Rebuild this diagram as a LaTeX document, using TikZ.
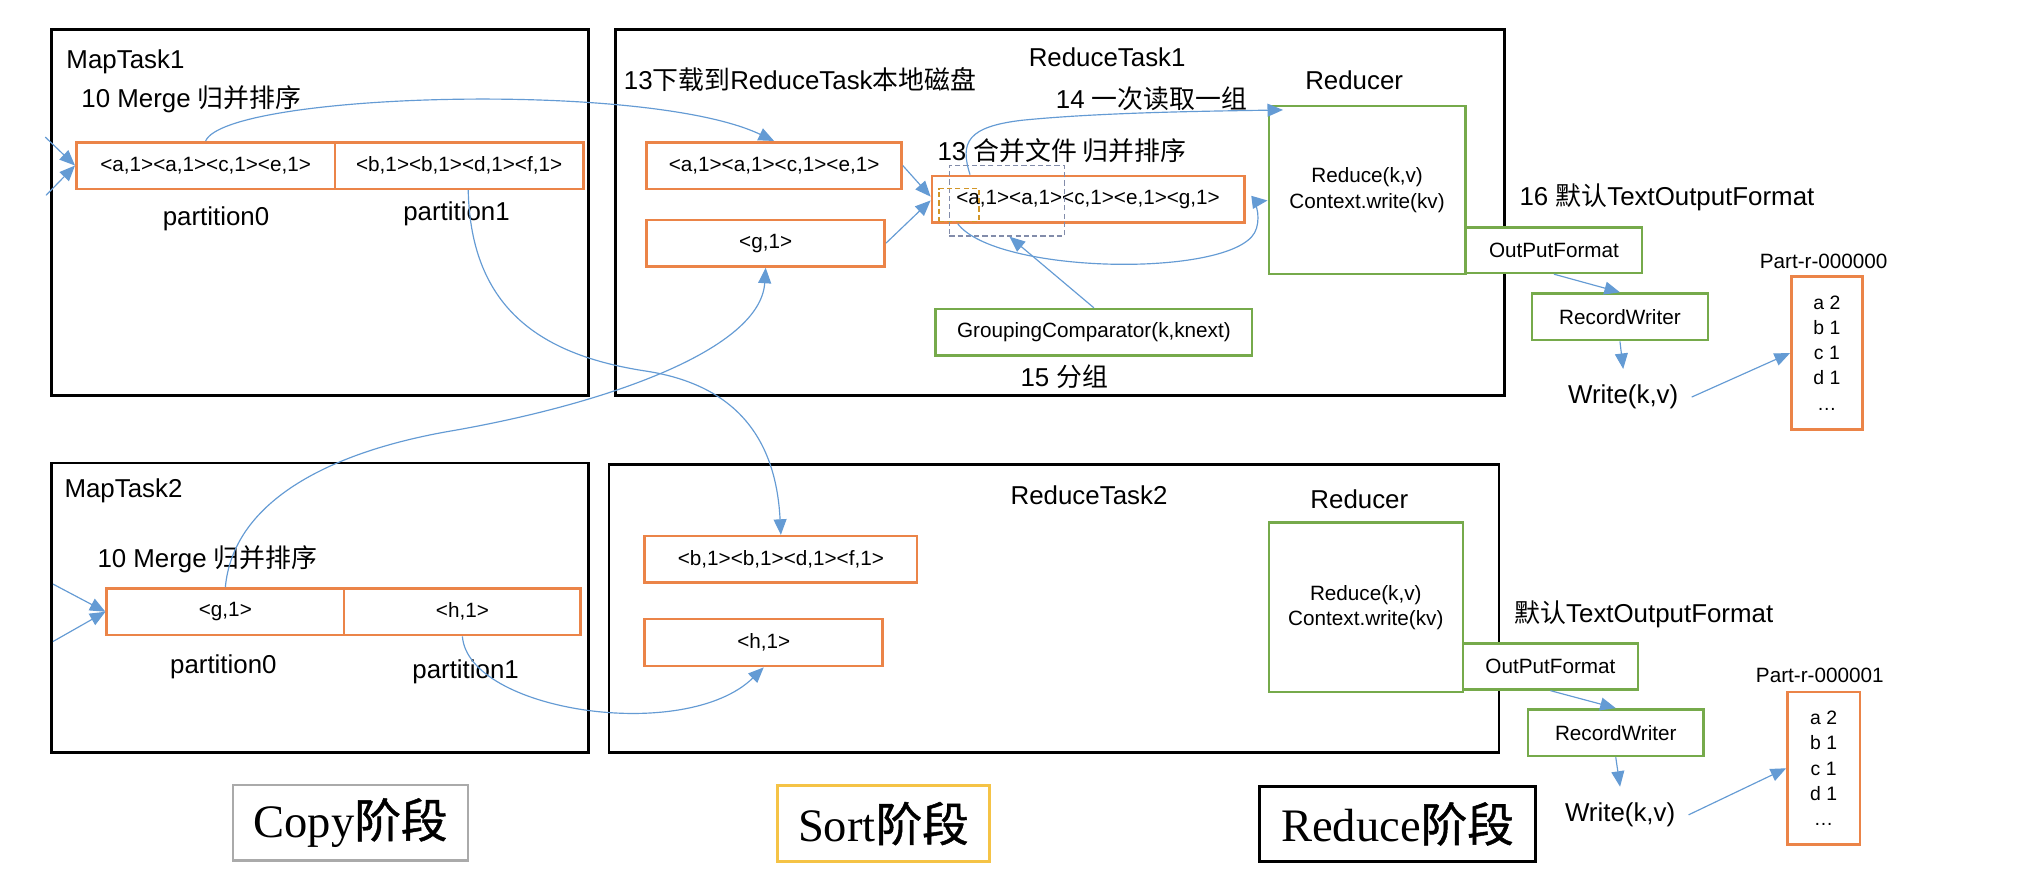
\documentclass[tikz,border=0pt]{standalone}
\usepackage{fontspec}
\setmainfont{Liberation Sans}
\newfontfamily\cjk{Noto Sans CJK SC}
\newfontfamily\cjkb{Noto Sans CJK SC}[FakeBold=1]
\newfontfamily\serifL{Liberation Serif}
\usetikzlibrary{arrows.meta,calc}
\definecolor{orangeC}{RGB}{235,132,72}
\definecolor{greenC}{RGB}{118,170,75}
\definecolor{blueC}{RGB}{100,155,212}
\definecolor{grayD}{RGB}{130,140,170}
\definecolor{orangeD}{RGB}{210,150,40}
\definecolor{grayP}{RGB}{170,170,170}
\definecolor{yellowP}{RGB}{245,195,70}
\tikzset{
  rectxy/.style n args={4}{at={({(#1+#3)/2},{(#2+#4)/2})},
     minimum width={(#3-#1)*0.5pt}, minimum height={(#4-#2)*0.5pt}},
  bbox/.style={draw=black, line width=1pt, inner sep=0pt},
  obox/.style={draw=orangeC, line width=1pt, inner sep=0pt, font=\fontsize{8}{9.7}\selectfont},
  gbox/.style={draw=greenC, line width=1pt, inner sep=0pt, font=\fontsize{8}{9.7}\selectfont},
  lbl/.style={inner sep=0pt, font=\fontsize{10}{12}\selectfont},
  sml/.style={inner sep=0pt, font=\fontsize{8}{9.7}\selectfont},
  arr/.style={draw=blueC, line width=0.45pt, -{Triangle[length=6pt,width=5pt]}},
  phase/.style={line width=1pt, inner sep=0pt, font=\fontsize{18}{20}\selectfont},
  wnode/.style={inner xsep=5pt, inner ysep=6pt, font=\fontsize{10}{12}\selectfont},
  dashbox/.style={line width=0.5pt, dash pattern=on 2pt off 1.2pt, inner sep=0pt},
  partbox/.style={draw=orangeC, line width=1pt, inner sep=0pt, align=center, font=\fontsize{7.5}{9.7}\selectfont},
}
\begin{document}
\begin{tikzpicture}[x=0.5pt, y=-0.5pt]
\useasboundingbox (0,0) rectangle (1568,679);
\fill[white] (0,0) rectangle (1568,679);

% ---------- MapTask1 ----------
\node[bbox, rectxy={40}{23}{455}{306}] (mt1) {};
\node[lbl, anchor=base west] (mt1lbl) at (51,53) {MapTask1};
\node[lbl, anchor=base west] (mt1mrg) at (62.6,83) {10 Merge {\cjk 归并排序}};
\node[obox, rectxy={59}{110}{259}{146}] (m1p0) {<a,1><a,1><c,1><e,1>};
\node[obox, rectxy={259}{110}{451}{146}] (m1p1) {<b,1><b,1><d,1><f,1>};
\node[lbl] (m1pl0) at (167,169) {partition0};
\node[lbl] (m1pl1) at (353,165) {partition1};
\coordinate (in1a) at (35,106);
\coordinate (in1b) at (35.6,151);
\draw[arr] (in1a) -- (m1p0.west);
\draw[arr] (in1b) -- (m1p0.west);

% ---------- ReduceTask1 ----------
\node[bbox, rectxy={476}{23}{1163}{306}] (rt1) {};
\node[lbl] (rt1lbl) at (856,44) {ReduceTask1};
\node[lbl, anchor=base west] (dl) at (482,69) {13{\cjk 下载到}ReduceTask{\cjk 本地磁盘}};
\node[lbl, anchor=base west] (rd1) at (816,84) {14 {\cjk 一次读取一组}};
\node[lbl] (reducer1) at (1047,62) {Reducer};
\node[obox, rectxy={500}{110}{697}{146}] (r1a) {<a,1><a,1><c,1><e,1>};
\node[obox, rectxy={500}{170}{684}{206}] (r1g) {<g,1>};
\node[lbl, anchor=base west] (mg) at (724.5,124) {13 {\cjk 合并文件 归并排序}};
\node[obox, rectxy={720.5}{136}{962}{172}] (mrg) {<a,1><a,1><c,1><e,1><g,1>};
\node[dashbox, draw=grayD, rectxy={734}{128}{823}{182.5}] (gdash) {};
\node[dashbox, draw=orangeD, rectxy={726}{146}{757}{171}] (odash) {};
\node[gbox, rectxy={981}{82}{1133}{212}, align=center] (red1) {Reduce(k,v)\\Context.write(kv)};
\node[gbox, rectxy={723.5}{239}{968}{275}] (gc) {GroupingComparator(k,knext)};
\node[lbl] (fz) at (823,291) {15 {\cjk 分组}};
\node[gbox, fill=white, rectxy={1133.5}{176}{1269.5}{211}] (opf1) {OutPutFormat};
\node[lbl, anchor=base west] (tof1) at (1174.5,159) {16 {\cjk 默认}TextOutputFormat};
\node[gbox, rectxy={1184.5}{227}{1320.5}{263}] (rw1) {RecordWriter};
\node[wnode] (w1) at (1255,307) {Write(k,v)};
\node[sml] (pr1) at (1410,202) {Part-r-000000};
\node[partbox, rectxy={1385}{214}{1440}{332}] (part1) {a 2\\b 1\\c 1\\d 1\\…};

\draw[arr] (r1a.east) -- ([yshift=1pt]mrg.west);
\draw[arr] (r1g.east) -- ([yshift=-0.5pt]mrg.west);
\draw[arr] ([xshift=15.25pt]mrg.north west) .. controls (742,110) and (748,98) .. (790,93)
   .. controls (850,87) and (930,86) .. ([xshift=6pt,yshift=-2pt]red1.north west);
\draw[arr] ([xshift=10.5pt]mrg.south west) .. controls (770,212) and (950,215) .. (970,180)
   .. controls (975,171) and (972,156) .. ([yshift=-4pt]red1.west);
\draw[arr] (gc.north) -- ([xshift=1pt]gdash.south);
\draw[arr] (opf1.south) -- (rw1.north);
\draw[arr] (rw1.south) -- (w1.north);
\draw[arr] (w1.east) -- (part1.west);

% ---------- MapTask2 ----------
\node[bbox, rectxy={40}{358}{455}{582}] (mt2) {};
\node[lbl, anchor=base west] (mt2lbl) at (49.5,385) {MapTask2};
\node[lbl, anchor=base west] (mt2mrg) at (75,438.5) {10 Merge {\cjk 归并排序}};
\node[obox, rectxy={82.5}{455}{266}{491}] (m2p0) {<g,1>};
\node[obox, rectxy={266}{455}{449}{491}] (m2p1) {<h,1>};
\node[lbl] (m2pl0) at (172.7,515.5) {partition0};
\node[lbl] (m2pl1) at (360,519.5) {partition1};
\coordinate (in2a) at (41,451.6);
\coordinate (in2b) at (41,496);
\draw[arr] (in2a) -- (m2p0.west);
\draw[arr] (in2b) -- (m2p0.west);

% ---------- ReduceTask2 ----------
\node[bbox, rectxy={471}{359}{1159}{582}] (rt2) {};
\node[lbl] (rt2lbl) at (842,383) {ReduceTask2};
\node[lbl] (reducer2) at (1051,386) {Reducer};
\node[obox, rectxy={498.5}{414.5}{709}{450.5}] (r2b) {<b,1><b,1><d,1><f,1>};
\node[obox, rectxy={498.5}{478.5}{682.5}{515}] (r2h) {<h,1>};
\node[gbox, rectxy={981}{404}{1131}{535}, align=center] (red2) {Reduce(k,v)\\Context.write(kv)};
\node[lbl, anchor=base west] (tof2) at (1170.5,481) {{\cjk 默认}TextOutputFormat};
\node[gbox, fill=white, rectxy={1131}{497.5}{1266.5}{533}] (opf2) {OutPutFormat};
\node[gbox, rectxy={1181.5}{548.5}{1317}{584.5}] (rw2) {RecordWriter};
\node[wnode] (w2) at (1252.6,630) {Write(k,v)};
\node[sml] (pr2) at (1407,522) {Part-r-000001};
\node[partbox, rectxy={1382}{535}{1438}{653}] (part2) {a 2\\b 1\\c 1\\d 1\\…};

\draw[arr] (opf2.south) -- (rw2.north);
\draw[arr] (rw2.south) -- (w2.north);
\draw[arr] (w2.east) -- (part2.west);

% ---------- cross connectors ----------
\draw[arr] (m1p0.north) .. controls (175,72) and (500,62) .. (r1a.north);
\draw[arr] ([xshift=3.5pt]m1p1.south) .. controls (364,240) and (420,275) .. (500,287)
   .. controls (570,298) and (600,340) .. (r2b.north);
\draw[arr] (m2p0.north) .. controls (180,390) and (250,350) .. (350,333)
   .. controls (470,312) and (588,270) .. (r1g.south);
\draw[arr] (m2p1.south) .. controls (362,550) and (530,575) .. (r2h.south);

% ---------- phases ----------
\node[phase, draw=grayP, rectxy={180}{607}{362}{665.5}] (copy) {{\serifL Copy}{\cjkb 阶段}};
\node[phase, draw=yellowP, rectxy={601}{607.5}{765}{666}] (sort) {{\serifL Sort}{\cjkb 阶段}};
\node[phase, draw=black, rectxy={974}{608}{1187}{666}] (reduce) {{\serifL Reduce}{\cjkb 阶段}};
\end{tikzpicture}
\end{document}
